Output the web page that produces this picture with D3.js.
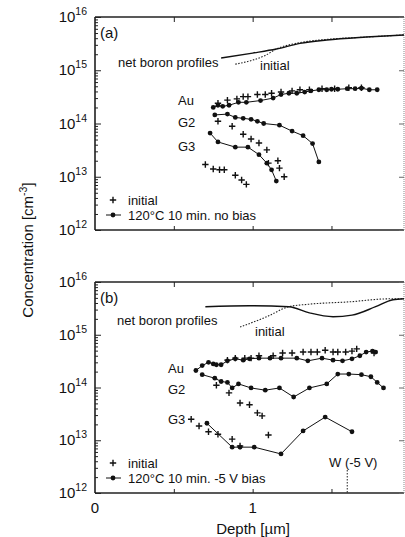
<!DOCTYPE html>
<html>
<head>
<meta charset="utf-8">
<script src="https://cdn.jsdelivr.net/npm/d3@7"></script>
<style>
  body { margin: 0; background: #fff; }
  svg { font-family: "Liberation Sans", Arial, sans-serif; }
  .lbl { font-size: 13px; fill: #111; }
</style>
</head>
<body>
<div id="chart"></div>
<script>
// Panel (a): 120°C 10 min, no bias  -- [depth µm, concentration cm^-3]
const aBoronNet = [[0.80, 1.7e15], [1.00, 2.1e15], [1.15, 2.5e15], [1.30, 3.2e15], [1.47, 3.7e15], [1.72, 4.2e15], [1.96, 4.6e15]];
const aBoronInit = [[0.89, 1.3e15], [1.00, 1.55e15], [1.08, 1.9e15], [1.15, 2.5e15], [1.30, 3.3e15], [1.47, 3.8e15], [1.72, 4.2e15], [1.96, 4.6e15]];
const aAuAfter = [[0.75, 2.0e14], [0.78, 2.2e14], [0.81, 2.1e14], [0.85, 2.2e14], [0.91, 2.5e14], [0.96, 2.5e14], [1.05, 2.7e14], [1.13, 3.0e14], [1.18, 3.5e14], [1.23, 3.7e14], [1.28, 3.7e14], [1.33, 3.9e14], [1.37, 4.1e14], [1.42, 4.3e14], [1.47, 4.3e14], [1.50, 4.4e14], [1.54, 4.4e14], [1.60, 4.5e14], [1.65, 4.5e14], [1.69, 4.6e14], [1.74, 4.3e14], [1.79, 4.3e14]];
const aAuInit = [[0.78, 2.4e14], [0.84, 2.75e14], [0.90, 2.9e14], [0.94, 3.2e14], [0.97, 3.2e14], [1.03, 3.5e14], [1.08, 3.5e14], [1.12, 3.7e14], [1.18, 3.9e14], [1.25, 4.1e14], [1.30, 4.3e14], [1.36, 4.3e14], [1.44, 4.5e14], [1.52, 4.5e14], [1.61, 4.7e14], [1.69, 4.7e14]];
const aG2After = [[0.76, 1.45e14], [0.84, 1.5e14], [0.89, 1.3e14], [0.94, 1.25e14], [0.99, 1.2e14], [1.03, 1.1e14], [1.07, 1.0e14], [1.17, 9.3e13], [1.25, 7.2e13], [1.32, 5.9e13], [1.38, 4.2e13], [1.42, 1.9e13]];
const aG2Init = [[0.78, 1.1e14], [0.87, 8.9e13], [0.94, 6.3e13], [0.99, 5.1e13], [1.04, 4.3e13], [1.09, 3.2e13], [1.10, 1.8e13], [1.16, 2.0e13], [1.17, 1.45e13], [1.20, 1.0e13]];
const aG3After = [[0.73, 6.6e13], [0.78, 4.5e13], [0.89, 3.6e13], [0.97, 3.6e13], [1.04, 2.6e13], [1.09, 1.8e13], [1.12, 1.35e13], [1.15, 8.3e12]];
const aG3Init = [[0.70, 1.7e13], [0.75, 1.4e13], [0.79, 1.35e13], [0.82, 1.35e13], [0.89, 1.07e13], [0.93, 8.7e12], [0.96, 7.2e12]];

// Panel (b): 120°C 10 min, -5 V bias
const bBoronNet = [[0.70, 3.4e15], [0.98, 3.55e15], [1.23, 3.4e15], [1.36, 2.6e15], [1.51, 2.2e15], [1.63, 2.35e15], [1.78, 3.4e15], [1.89, 4.6e15], [1.96, 4.8e15]];
const bBoronInit = [[0.92, 1.4e15], [1.09, 2.2e15], [1.23, 3.4e15], [1.36, 3.8e15], [1.61, 4.2e15], [1.87, 4.8e15], [1.96, 4.8e15]];
const bAuAfter = [[0.64, 2.1e14], [0.68, 2.6e14], [0.72, 3.0e14], [0.75, 2.8e14], [0.77, 2.7e14], [0.80, 2.7e14], [0.84, 3.2e14], [0.89, 3.5e14], [0.94, 3.3e14], [0.98, 3.5e14], [1.04, 3.6e14], [1.11, 3.6e14], [1.18, 3.6e14], [1.28, 3.6e14], [1.35, 3.2e14], [1.44, 3.6e14], [1.51, 3.3e14], [1.57, 3.2e14], [1.63, 3.5e14], [1.68, 4.0e14], [1.72, 4.7e14], [1.76, 4.9e14], [1.78, 4.7e14]];
const bAuInit = [[0.84, 3.3e14], [0.89, 3.6e14], [0.95, 3.6e14], [0.99, 3.6e14], [1.04, 4.0e14], [1.13, 4.0e14], [1.19, 4.5e14], [1.25, 4.5e14], [1.32, 4.7e14], [1.37, 4.7e14], [1.41, 4.7e14], [1.46, 5.1e14], [1.51, 4.7e14], [1.54, 4.7e14], [1.59, 4.7e14], [1.63, 4.9e14], [1.66, 5.4e14], [1.77, 4.5e14]];
const bG2After = [[0.68, 1.75e14], [0.76, 1.5e14], [0.80, 1.3e14], [0.84, 1.25e14], [0.87, 9.8e13], [0.91, 1.17e14], [0.99, 9.8e13], [1.08, 8.9e13], [1.17, 9.8e13], [1.26, 6.6e13], [1.36, 9.8e13], [1.47, 1.17e14], [1.54, 1.8e14], [1.61, 1.8e14], [1.69, 1.75e14], [1.75, 1.6e14], [1.79, 1.25e14], [1.83, 9.8e13]];
const bG2Init = [[0.77, 1.1e14], [0.85, 7.9e13], [0.92, 5.1e13], [0.98, 4.7e13], [1.03, 3.3e13], [1.06, 2.9e13], [1.10, 1.26e13]];
const bG3After = [[0.71, 2.1e13], [0.87, 7.4e12], [0.92, 7.4e12], [1.01, 7.4e12], [1.18, 5.5e12], [1.32, 1.5e13], [1.46, 2.75e13], [1.63, 1.45e13]];
const bG3Init = [[0.61, 2.5e13], [0.66, 1.86e13], [0.72, 1.45e13], [0.78, 1.3e13], [0.87, 1.05e13], [0.92, 7.8e12]];

const wDepth = 1.6; // depletion width at -5 V
const decades = [1e12, 1e13, 1e14, 1e15, 1e16];
const xTicks = [0.5, 1, 1.5];
const xTickLabels = [0, 1];

const width = 405, height = 537;
const left = 95, right = 404;

const svg = d3.select('#chart').append('svg')
  .attr('width', width)
  .attr('height', height)
  .attr('viewBox', [0, 0, width, height]);

const x = d3.scaleLinear().domain([0, 1.96]).range([left, right]);

// minor ticks of a log axis: 2..9 in every decade
const minors = [];
decades.slice(0, -1).forEach(d => { for (let k = 2; k <= 9; k++) minors.push(d * k); });

function drawPanel(p) {
  const y = d3.scaleLog().domain([1e12, 1e16]).range([p.bottom, p.top]);
  const g = svg.append('g');

  // frame
  g.append('line').attr('x1', left).attr('x2', right).attr('y1', p.top).attr('y2', p.top)
    .attr('stroke', '#222').attr('stroke-width', 1.3);
  g.append('line').attr('x1', left).attr('x2', right).attr('y1', p.bottom).attr('y2', p.bottom)
    .attr('stroke', '#222').attr('stroke-width', 1.5);
  g.append('line').attr('x1', left).attr('x2', left).attr('y1', p.top).attr('y2', p.bottom)
    .attr('stroke', '#111').attr('stroke-width', 1.5);
  g.append('line').attr('x1', right).attr('x2', right).attr('y1', p.top).attr('y2', p.bottom)
    .attr('stroke', '#888').attr('stroke-width', 1).attr('stroke-dasharray', '1,1');

  // left axis, ticks pointing inward
  const axL = g.append('g').attr('transform', `translate(${left},0)`);
  axL.call(d3.axisLeft(y).tickValues(minors).tickSize(-3).tickSizeOuter(0).tickFormat(''));
  axL.append('g').call(d3.axisLeft(y).tickValues(decades).tickSize(-6).tickSizeOuter(0).tickFormat(''));
  axL.selectAll('.domain').remove();
  axL.selectAll('line').attr('stroke', '#222');

  // right axis
  const axR = g.append('g').attr('transform', `translate(${right},0)`);
  axR.call(d3.axisRight(y).tickValues(decades).tickSize(-5).tickSizeOuter(0).tickFormat(''));
  axR.selectAll('.domain').remove();
  axR.selectAll('line').attr('stroke', '#666');

  // top and bottom ticks
  const axT = g.append('g').attr('transform', `translate(0,${p.top})`);
  axT.call(d3.axisTop(x).tickValues(xTicks).tickSize(-5).tickSizeOuter(0).tickFormat(''));
  const axB = g.append('g').attr('transform', `translate(0,${p.bottom})`);
  axB.call(d3.axisBottom(x).tickValues(xTicks).tickSize(-4).tickSizeOuter(0).tickFormat(''));
  g.selectAll('.domain').remove();
  axT.selectAll('line').attr('stroke', '#222');
  axB.selectAll('line').attr('stroke', '#222');

  // decade labels 10^n
  const lab = g.selectAll('.ylab').data(decades).join('text')
    .attr('class', 'ylab')
    .attr('x', 87)
    .attr('y', d => y(d) + 5)
    .attr('text-anchor', 'end')
    .style('font-size', '15px')
    .attr('fill', '#111');
  lab.append('tspan').text('10');
  lab.append('tspan').attr('dy', -7).style('font-size', '10.5px').text(d => Math.round(Math.log10(d)));

  // boron profiles
  const curve = d3.line().x(d => x(d[0])).y(d => y(d[1])).curve(d3.curveMonotoneX);
  g.append('path').attr('d', curve(p.boronInit)).attr('fill', 'none')
    .attr('stroke', '#222').attr('stroke-width', 1.1).attr('stroke-dasharray', '1.5,1.5');
  g.append('path').attr('d', curve(p.boronNet)).attr('fill', 'none')
    .attr('stroke', '#111').attr('stroke-width', 1.4);

  // after-anneal series: line + dots
  const line = d3.line().x(d => x(d[0])).y(d => y(d[1]));
  p.after.forEach(s => {
    g.append('path').attr('d', line(s)).attr('fill', 'none').attr('stroke', '#111').attr('stroke-width', 1);
    g.selectAll(null).data(s).join('circle')
      .attr('cx', d => x(d[0])).attr('cy', d => y(d[1])).attr('r', 2.4).attr('fill', '#111');
  });

  // initial series: crosses
  p.init.forEach(s => {
    g.selectAll(null).data(s).join('path')
      .attr('transform', d => `translate(${x(d[0])},${y(d[1])})`)
      .attr('d', 'M-3.2,0H3.2M0,-3.2V3.2')
      .attr('stroke', '#111').attr('stroke-width', 1.4);
  });

  // annotations
  g.append('text').attr('x', 100).attr('y', p.top + 21).style('font-size', '15px').attr('fill', '#111').text(p.tag);
  g.append('text').attr('class', 'lbl').attr('x', p.netX).attr('y', p.netY).text('net boron profiles');
  g.append('text').attr('class', 'lbl').attr('x', p.initX).attr('y', p.initY).text('initial');
  ['Au', 'G2', 'G3'].forEach((t, i) => {
    g.append('text').attr('class', 'lbl').attr('x', p.seriesX).attr('y', p.seriesY[i]).text(t);
  });

  // legend
  const ly1 = p.bottom - 30, ly2 = p.bottom - 15;
  g.append('path').attr('transform', `translate(113,${ly1})`).attr('d', 'M-3.2,0H3.2M0,-3.2V3.2')
    .attr('stroke', '#111').attr('stroke-width', 1.4);
  g.append('text').attr('class', 'lbl').attr('x', 128).attr('y', ly1 + 5).text('initial');
  g.append('line').attr('x1', 106).attr('x2', 121).attr('y1', ly2).attr('y2', ly2).attr('stroke', '#111');
  g.append('circle').attr('cx', 113).attr('cy', ly2).attr('r', 2.4).attr('fill', '#111');
  g.append('text').attr('class', 'lbl').attr('x', 128).attr('y', ly2 + 5).text(p.legend);

  return { g, y };
}

drawPanel({
  top: 17, bottom: 230, tag: '(a)',
  boronNet: aBoronNet, boronInit: aBoronInit,
  after: [aAuAfter, aG2After, aG3After],
  init: [aAuInit, aG2Init, aG3Init],
  netX: 118, netY: 67, initX: 260, initY: 70,
  seriesX: 178, seriesY: [105, 127, 151],
  legend: '120°C 10 min. no bias'
});

const pb = drawPanel({
  top: 282, bottom: 493, tag: '(b)',
  boronNet: bBoronNet, boronInit: bBoronInit,
  after: [bAuAfter, bG2After, bG3After],
  init: [bAuInit, bG2Init, bG3Init],
  netX: 117, netY: 325, initX: 255, initY: 336,
  seriesX: 168, seriesY: [373, 394, 424],
  legend: '120°C 10 min. -5 V bias'
});

// W (-5 V) marker
pb.g.append('line')
  .attr('x1', x(wDepth)).attr('x2', x(wDepth))
  .attr('y1', 470).attr('y2', 493)
  .attr('stroke', '#222').attr('stroke-width', 1).attr('stroke-dasharray', '1.5,1.5');
pb.g.append('text').attr('class', 'lbl').attr('x', x(wDepth) + 6).attr('y', 467)
  .attr('text-anchor', 'middle').text('W (-5 V)');

// x tick labels and axis titles
svg.selectAll('.xlab').data(xTickLabels).join('text')
  .attr('class', 'xlab')
  .attr('x', d => x(d)).attr('y', 513)
  .attr('text-anchor', 'middle')
  .style('font-size', '15px').attr('fill', '#111')
  .text(d => d);

svg.append('text')
  .attr('x', 253).attr('y', 534)
  .attr('text-anchor', 'middle')
  .style('font-size', '15px').attr('fill', '#111')
  .text('Depth [µm]');

const yt = svg.append('text')
  .attr('transform', 'translate(33,250) rotate(-90)')
  .attr('text-anchor', 'middle')
  .style('font-size', '15px').attr('fill', '#111');
yt.append('tspan').text('Concentration  [cm');
yt.append('tspan').attr('dy', -6).style('font-size', '10.5px').text('-3');
yt.append('tspan').attr('dy', 6).text(']');
</script>
</body>
</html>
